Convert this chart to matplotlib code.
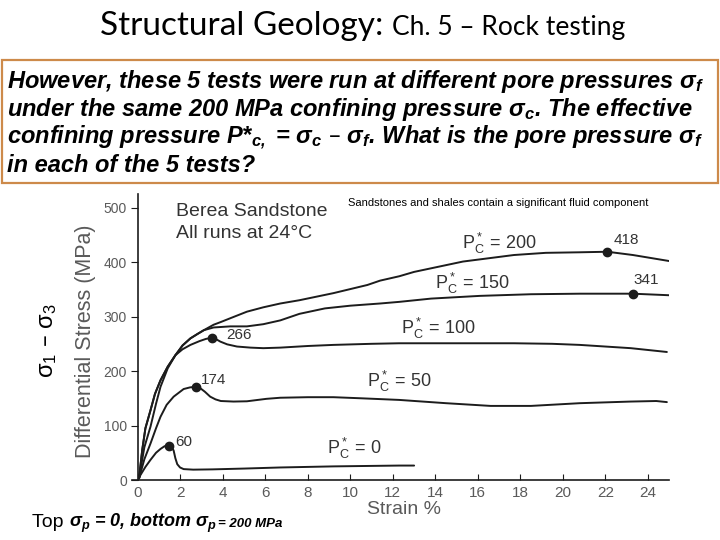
import matplotlib
matplotlib.use('Agg')
import matplotlib.pyplot as plt
from matplotlib.patches import Rectangle

plt.rcParams['font.family'] = ['Liberation Sans', 'DejaVu Sans']

# Berea sandstone triaxial runs
# (strain in %, differential stress in MPa)
strain_p0 = [0.05, 0.1, 0.35, 0.59, 0.85, 1.06, 1.25, 1.45, 1.6, 1.68, 1.76, 1.85, 1.98,
             2.15, 2.6, 3.5, 5.0, 6.7, 9.2, 12.3, 13.0]
stress_p0 = [3, 8, 24, 37, 50, 57, 62, 63, 60, 54, 40, 29, 23,
             20, 19, 19.5, 21, 23, 25, 26.5, 26.5]

strain_p50 = [0.05, 0.3, 0.59, 0.85, 1.06, 1.35, 1.68, 2.15, 2.45, 2.71, 2.95, 3.15, 3.4,
              3.65, 3.9, 4.5, 5.13, 6.05, 6.7, 8.0, 9.2, 10.5, 12.3, 14.5, 16.6, 18.5,
              20.8, 23.2, 24.4, 24.9]
stress_p50 = [3, 38, 67, 95, 116, 138, 153, 167, 170, 171, 168, 162, 153,
              148, 145, 144, 144.5, 149, 151, 152, 152, 150, 147, 141, 136, 136,
              141, 144, 145, 143]

strain_p100 = [0.05, 0.3, 0.59, 0.85, 1.06, 1.4, 1.76, 2.1, 2.47, 2.9, 3.2, 3.47, 3.7,
               3.88, 4.2, 4.66, 5.3, 5.9, 6.7, 8.0, 9.2, 11.0, 12.3, 14.5, 17.7, 19.5,
               20.8, 22.0, 23.2, 24.9]
stress_p100 = [3, 60, 98, 140, 171, 205, 229, 240, 248, 255, 259, 261, 258,
               254, 249, 245, 243, 242, 243, 246, 248, 250, 251, 251, 251, 250,
               248, 245, 242, 235]

strain_p150 = [0.05, 0.2, 0.35, 0.59, 0.8, 1.06, 1.4, 1.76, 2.1, 2.47, 2.8, 3.1, 3.56,
               4.35, 5.13, 5.9, 6.7, 7.6, 8.8, 10.0, 11.4, 12.3, 13.8, 16.1, 18.5, 20.8,
               23.3, 25.1]
stress_p150 = [3, 55, 95, 128, 158, 183, 208, 229, 247, 260, 268, 275, 280,
               282, 282, 286, 293, 305, 315, 320, 324, 327, 333, 338, 341, 342,
               342, 339]

strain_p200 = [0.05, 0.2, 0.35, 0.59, 0.8, 1.06, 1.4, 1.76, 2.1, 2.47, 2.8, 3.1, 3.56,
               3.9, 4.35, 5.13, 5.9, 6.7, 7.6, 9.2, 10.8, 11.4, 12.3, 13.0, 15.3, 17.7,
               19.2, 20.8, 22.1, 23.3, 25.0]
stress_p200 = [3, 55, 95, 128, 158, 183, 208, 229, 247, 260, 268, 275, 285,
               290, 297, 309, 317, 324, 330, 343, 358, 366, 374, 382, 401, 413,
               417, 418, 419, 413, 402]

# peak (failure) points and their labels
peak_strain = [1.45, 2.71, 3.47, 23.3, 22.1]
peak_stress = [63, 171, 261, 342, 419]
peak_labels = ['60', '174', '266', '341', '418']
peak_label_x = [1.77, 2.96, 4.17, 23.34, 22.37]
peak_label_y = [70, 183, 266, 367, 440]

# effective confining pressure labels
pc_values = [200, 150, 100, 50, 0]
pc_label_x = [15.25, 13.98, 12.4, 10.76, 8.88]
pc_label_y = [434, 361, 278, 180, 58]

x_ticks = list(range(0, 25, 2))
y_ticks = [0, 100, 200, 300, 400, 500]

box_lines = [
    'However, these 5 tests were run at different pore pressures σ$\\mathregular{_f}$',
    'under the same 200 MPa confining pressure σ$\\mathregular{_c}$. The effective',
    'confining pressure P*$\\mathregular{_{c,}}$ = σ$\\mathregular{_c}$ – σ$\\mathregular{_f}$. '
    'What is the pore pressure σ$\\mathregular{_f}$',
    'in each of the 5 tests?',
]

W, H = 720, 540
ink = '#1c1c1c'
txt = '#333333'
grey = '#5a5a5a'
narrow = ['Liberation Sans Narrow', 'Liberation Sans']

fig = plt.figure(figsize=(7.2, 5.4), dpi=100)
fig.patch.set_facecolor('white')

def fx(px):
    return px / W

def fy(py):
    return 1 - py / H

ax = fig.add_axes([fx(131.6), fy(480), fx(669 - 131.6), (480 - 194) / H])
for s, v in [(strain_p0, stress_p0), (strain_p50, stress_p50), (strain_p100, stress_p100),
             (strain_p150, stress_p150), (strain_p200, stress_p200)]:
    ax.plot(s, v, color=ink, lw=1.4, solid_capstyle='round', solid_joinstyle='round')
ax.plot(peak_strain, peak_stress, 'o', color=ink, ms=6)

for lab, x, y in zip(peak_labels, peak_label_x, peak_label_y):
    ax.text(x, y, lab, fontsize=11, color=txt, va='center', ha='left')
for p, x, y in zip(pc_values, pc_label_x, pc_label_y):
    ax.text(x, y, '$\\mathregular{P^*_C}$ = %d' % p, fontsize=13, color=txt,
            va='center', ha='left')

ax.text(1.8, 492, 'Berea Sandstone', fontsize=14, color=txt, va='center')
ax.text(1.8, 453, 'All runs at 24°C', fontsize=14, color=txt, va='center')

ax.set_xlim(-0.3, 25)
ax.set_ylim(0, 525)
ax.spines['top'].set_visible(False)
ax.spines['right'].set_visible(False)
ax.spines['left'].set_position(('data', 0))
ax.spines['left'].set_color(ink)
ax.spines['bottom'].set_color(ink)
ax.spines['left'].set_linewidth(1.2)
ax.spines['bottom'].set_linewidth(1.2)
ax.set_xticks(x_ticks)
ax.set_yticks(y_ticks)
ax.tick_params(axis='x', direction='in', length=4, pad=4, labelsize=11, labelcolor=grey,
               color=ink)
ax.tick_params(axis='y', direction='out', length=5, pad=3, labelsize=10, labelcolor=grey,
               color=ink)

# axis titles placed like in the scan
fig.text(fx(85), fy(341), 'Differential Stress (MPa)', rotation=90, fontsize=15.5,
         color=grey, ha='center', va='center')
fig.text(fx(404), fy(510), 'Strain %', fontsize=14, color=grey, ha='center', va='center')
fig.text(fx(48), fy(341), 'σ$\\mathregular{_1}$ – σ$\\mathregular{_3}$', rotation=90,
         fontsize=17, ha='center', va='center')
fig.text(fx(348), fy(203), 'Sandstones and shales contain a significant fluid component',
         fontsize=8, va='center')

# question box
fig.patches.append(Rectangle((fx(2), fy(183)), fx(716), (183 - 60) / H,
                             transform=fig.transFigure, fill=False,
                             edgecolor='#CD8A4A', lw=1.6))
for i, line in enumerate(box_lines):
    fig.text(fx(7), fy(88 + 28 * i), line, fontsize=17, family=narrow,
             weight='bold', style='italic', va='baseline')

renderer = fig.canvas.get_renderer()

def run_of_text(x0, y0, pieces):
    # place pieces one after another on a shared baseline
    x = x0
    for s, kw in pieces:
        t = fig.text(fx(x), fy(y0), s, va='baseline', ha='left', **kw)
        x = t.get_window_extent(renderer).x1
    return x

run_of_text(100, 35, [('Structural Geology: ', dict(fontsize=24, family='Lato')),
                      ('Ch. 5 – Rock testing', dict(fontsize=19, family='Lato'))])

run_of_text(32, 527, [
    ('Top ', dict(fontsize=14)),
    ('σ$\\mathregular{_p}$ = 0, bottom σ$\\mathregular{_p}$ ',
     dict(fontsize=13, family=narrow, weight='bold', style='italic')),
    ('= 200 MPa', dict(fontsize=9.5, family=narrow, weight='bold', style='italic')),
])

fig.savefig('out.png', dpi=100, facecolor='white')
